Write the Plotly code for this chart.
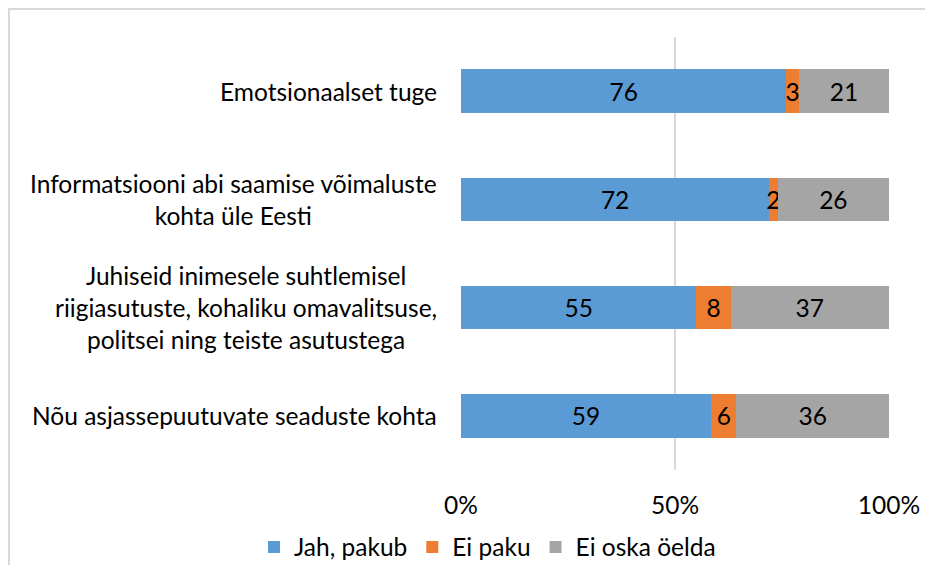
import plotly.graph_objects as go

categories = [
    "Emotsionaalset tuge",
    "Informatsiooni abi saamise võimaluste<br>kohta üle Eesti",
    "Juhiseid inimesele suhtlemisel<br>riigiasutuste, kohaliku omavalitsuse,<br>politsei ning teiste asutustega",
    "Nõu asjassepuutuvate seaduste kohta",
]
series_names = ["Jah, pakub", "Ei paku", "Ei oska öelda"]
jah_pakub = [76, 72, 55, 59]
ei_paku = [3, 2, 8, 6]
ei_oska = [21, 26, 37, 36]
tick_vals = [0, 50, 100]
tick_text = ["0%", "50%", "100%"]

colors = ["#5B9BD5", "#ED7D31", "#A5A5A5"]
FONT = "Lato"
FS = 24.5

W, H = 925, 557
L, R, T, B = 453, 44, 29, 95
PW = W - L - R
PH = H - T - B

fig = go.Figure()
for name, vals, col in zip(series_names, [jah_pakub, ei_paku, ei_oska], colors):
    fig.add_trace(go.Bar(
        name=name, y=categories, x=vals, orientation="h",
        marker=dict(color=col, line=dict(width=0)),
        text=[str(v) for v in vals], textposition="inside",
        insidetextanchor="middle",
        textfont=dict(family=FONT, size=FS, color="#000000"),
        hoverinfo="skip",
    ))

annotations = []
for c in categories:
    annotations.append(dict(
        x=0, xref="paper", y=c, yref="y", xshift=-22,
        xanchor="right", yanchor="middle", align="center",
        text=c, showarrow=False,
        font=dict(family=FONT, size=FS, color="#000000"),
    ))

fig.update_layout(
    barmode="stack", barnorm="percent", bargap=0.6,
    width=W, height=H, autosize=False,
    margin=dict(l=L, r=R, t=T, b=B, autoexpand=False),
    paper_bgcolor="white", plot_bgcolor="white",
    font=dict(family=FONT, size=FS, color="#000000"),
    uniformtext=dict(minsize=FS, mode="show"),
    showlegend=True,
    legend=dict(orientation="h", xref="paper", yref="paper",
                x=(246 - L) / PW, xanchor="left", y=(PH + T - 539) / PH, yanchor="middle",
                font=dict(family=FONT, size=FS, color="#000000"),
                traceorder="normal", itemwidth=30, itemclick=False,
                bgcolor="rgba(0,0,0,0)"),
    xaxis=dict(range=[0, 100], tickvals=tick_vals, ticktext=tick_text,
               showgrid=True, gridcolor="#D9D9D9", gridwidth=2, zeroline=False,
               showline=False, ticks="outside", ticklen=14, tickcolor="rgba(0,0,0,0)",
               tickfont=dict(family=FONT, size=FS, color="#000000"), fixedrange=True,
               automargin=False),
    yaxis=dict(categoryorder="array", categoryarray=categories, autorange="reversed",
               showticklabels=False, showgrid=False, zeroline=False, showline=False,
               fixedrange=True, automargin=False),
    annotations=annotations,
    shapes=[dict(type="rect", xref="paper", yref="paper",
                 x0=(1 - L) / PW, x1=2.0, y0=-1.0, y1=1 + (T - 1) / PH,
                 line=dict(color="#D9D9D9", width=2), fillcolor="rgba(0,0,0,0)", layer="below")],
)

fig.write_html("out.html", config={"displayModeBar": False})
